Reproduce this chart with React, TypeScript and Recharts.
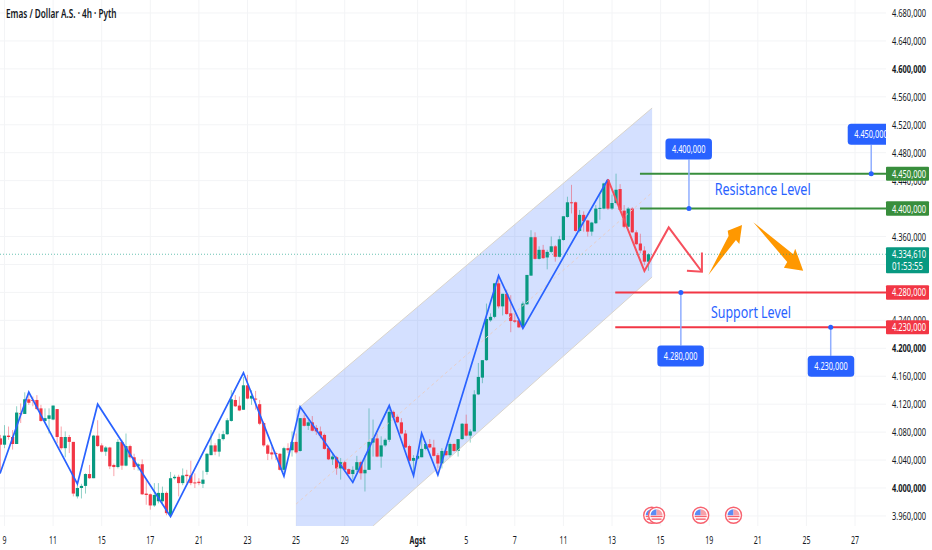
import React from 'react';
import {
  Area,
  Bar,
  CartesianGrid,
  ComposedChart,
  Line,
  ReferenceArea,
  ReferenceDot,
  XAxis,
  YAxis,
} from 'recharts';

// candles, 4h bars, first one sits at index -1
const opens = [4071,4062,4075,4073,4063,4107,4106,4127,4126,4126,4114,4096,4099,4098,4113,4073,4057,4073,4066,3988,4000,4003,4020,4014,4075,4061,4052,4058,4033,4030,4066,4032,4060,4044,4031,4034,3992,3991,3975,3981,3981,3993,3961,4014,4016,4007,4019,4018,4008,4009,4006,4023,4047,4061,4052,4070,4077,4096,4126,4118,4112,4147,4128,4128,4120,4093,4061,4051,4050,4049,4026,4057,4054,4066,4053,4100,4089,4094,4086,4081,4076,4057,4041,4044,4028,4037,4027,4020,4026,4037,4021,4026,4065,4071,4045,4061,4069,4109,4102,4094,4078,4060,4039,4042,4044,4056,4063,4058,4047,4035,4053,4047,4063,4053,4070,4092,4075,4081,4134,4158,4183,4240,4245,4293,4260,4278,4250,4240,4240,4231,4263,4304,4359,4328,4341,4330,4338,4346,4331,4355,4388,4409,4409,4368,4391,4383,4367,4379,4400,4400,4441,4400,4408,4428,4397,4374,4400,4366,4350,4340,4324];
const highs = [4076,4090,4088,4083,4117,4121,4137,4137,4131,4133,4119,4114,4114,4118,4113,4088,4081,4076,4066,4004,4006,4021,4033,4076,4097,4064,4060,4059,4035,4070,4069,4078,4062,4049,4036,4041,4012,3992,4007,4007,4002,3995,4023,4019,4019,4028,4026,4039,4021,4014,4025,4050,4083,4064,4078,4082,4100,4140,4133,4131,4159,4162,4140,4139,4126,4095,4063,4059,4052,4050,4059,4064,4081,4078,4100,4105,4097,4103,4090,4088,4078,4059,4050,4046,4043,4039,4028,4031,4046,4039,4047,4114,4098,4078,4074,4071,4117,4111,4105,4100,4083,4062,4047,4050,4078,4066,4070,4069,4050,4057,4057,4065,4064,4070,4093,4105,4084,4140,4179,4183,4264,4250,4293,4304,4278,4284,4276,4250,4243,4267,4305,4369,4366,4346,4348,4341,4360,4348,4361,4389,4417,4434,4410,4398,4396,4384,4381,4405,4420,4437,4442,4420,4450,4435,4405,4402,4402,4369,4364,4346,4336];
const lows = [4021,4057,4069,4055,4063,4093,4106,4119,4117,4112,4095,4095,4078,4097,4064,4055,4044,4050,3988,3985,3985,3992,4013,4014,4059,4051,4046,4027,4017,4028,4026,4031,4042,4026,4025,3990,3976,3969,3973,3978,3978,3961,3959,4012,3988,4004,4007,4004,4000,4004,4000,4019,4047,4047,4045,4068,4076,4095,4116,4110,4112,4127,4119,4112,4090,4059,4040,4041,4040,4025,4023,4050,4045,4049,4052,4088,4083,4081,4076,4071,4055,4040,4033,4019,4012,4023,4019,4012,4023,4012,3995,4026,4045,4044,4029,4059,4066,4100,4093,4077,4057,4038,4023,4040,4044,4054,4057,4045,4019,4028,4046,4044,4052,4045,4069,4074,4065,4081,4133,4150,4182,4238,4243,4257,4247,4248,4223,4236,4229,4229,4262,4304,4327,4327,4328,4313,4336,4324,4330,4354,4387,4393,4367,4366,4367,4360,4361,4378,4384,4399,4398,4398,4406,4396,4372,4373,4365,4348,4336,4319,4311];
const closes = [4062,4075,4073,4063,4108,4106,4127,4122,4125,4113,4096,4100,4104,4118,4073,4057,4073,4066,3992,4000,4003,4020,4014,4075,4060,4052,4058,4031,4030,4066,4032,4060,4044,4030,4034,3991,3990,3975,3990,3993,3993,3964,4014,4016,4007,4018,4017,4007,4007,4007,4012,4049,4061,4052,4070,4077,4097,4127,4117,4111,4147,4128,4132,4127,4092,4061,4049,4048,4049,4026,4057,4054,4066,4051,4100,4089,4094,4082,4081,4075,4056,4041,4045,4028,4037,4026,4020,4026,4037,4021,4026,4066,4071,4045,4061,4069,4109,4101,4094,4078,4058,4039,4043,4046,4056,4063,4058,4046,4035,4053,4047,4063,4053,4070,4092,4075,4081,4134,4159,4183,4242,4245,4293,4260,4278,4249,4239,4238,4230,4264,4305,4359,4328,4341,4329,4338,4346,4331,4356,4389,4409,4408,4368,4391,4382,4367,4380,4400,4401,4436,4400,4408,4427,4398,4374,4400,4366,4349,4340,4324,4334.61];

const FIRST_INDEX = -1;
const LAST_PRICE = 4334.61;

const priceTicks = [3960,4000,4040,4080,4120,4160,4200,4240,4280,4320,4360,4400,4440,4480,4520,4560,4600,4640,4680];
const boldPrices = [4000, 4200, 4600];
const tagPrices = [4450, 4400, LAST_PRICE, 4280, 4230];

const dateTickIndexes = [0,12,24,36,48,60,72,84,102,114,126,138,150,162,174,186,198,210];
const dateTickLabels = ['9','11','15','17','21','23','25','29','Agst','5','7','11','13','15','19','21','25','27'];

const blueIdx = [-1.1,6,18,23,41,59,69,73,86,95,101,103,107,122,128,149];
const bluePrices = [4020.7,4137.4,4005.7,4120,3959,4165,4017,4116.4,4008,4118,4017.6,4078.3,4018.6,4304,4228.6,4442];

const redIdx = [149,158,164,172.2];
const redPrices = [4442,4310.6,4373,4309.6];
const redHeadIdx = [168.5,172.2,172.2];
const redHeadPrices = [4311,4309.6,4337];

const channelIdx = [72,91,159.9];
const channelLow = [3945.6,3945.6,4302];
const channelHigh = [4111.6,4205,4544];

const calloutIdx = [169,214,167,204];
const calloutPrices = [4400,4450,4280,4230];
const flagIdx = [159.8,161,171.9,180];

const GREEN = '#089981';
const RED = '#f23645';
const LEVEL_GREEN = '#388e3c';
const BLUE = '#2962ff';
const PLOT_RIGHT = 886;

const fmt = (v: number) => {
  const s = v.toFixed(3).replace('.', ',');
  return s.slice(0, 1) + '.' + s.slice(1);
};

const rows = opens.map((o, i) => ({
  x: i + FIRST_INDEX,
  open: o,
  high: highs[i],
  low: lows[i],
  close: closes[i],
  range: [lows[i], highs[i]],
}));

const pairs = (xs: number[], ys: number[]) => xs.map((x, i) => ({ x, y: ys[i] }));
const blueLine = pairs(blueIdx, bluePrices);
const redLine = pairs(redIdx, redPrices);
const redHead = pairs(redHeadIdx, redHeadPrices);
const channel = channelIdx.map((x, i) => ({ x, band: [channelLow[i], channelHigh[i]] }));
const channelTop = pairs([channelIdx[0], channelIdx[2]], [channelHigh[0], channelHigh[2]]);
const channelBottom = pairs([channelIdx[1], channelIdx[2]], [channelLow[1], channelLow[2]]);
const channelMid = pairs([72, 159.9], [3977, 4423]);

const Candle = (props: any) => {
  const { x, y, width, height, payload } = props;
  const { open, close, high, low } = payload;
  const color = close >= open ? GREEN : RED;
  const k = height / (high - low);
  const top = y + (high - Math.max(open, close)) * k;
  const bodyH = Math.max(Math.abs(open - close) * k, 1);
  const cx = x + width / 2;
  return (
    <g>
      <line x1={cx} x2={cx} y1={y} y2={y + height} stroke={color} strokeOpacity={0.45} />
      <rect x={cx - 1.6} y={top} width={3.2} height={bodyH} fill={color} />
    </g>
  );
};

const YTick = (props: any) => {
  const { x, y, payload } = props;
  const v = payload.value;
  if (tagPrices.includes(v)) {
    const fill = v === LAST_PRICE ? GREEN : v > LAST_PRICE ? LEVEL_GREEN : RED;
    const last = v === LAST_PRICE;
    return (
      <g>
        <rect x={x} y={y - 7} width={43} height={last ? 26 : 14} rx={1} fill={fill} />
        <text x={x + 6} y={y + 4} fontSize={11} fill="#fff" textLength={34} lengthAdjust="spacingAndGlyphs">{fmt(v)}</text>
        {last && <text x={x + 6} y={y + 15.5} fontSize={11} fill="#fff" textLength={31} lengthAdjust="spacingAndGlyphs">01:53:55</text>}
      </g>
    );
  }
  return (
    <text x={x + 6} y={y + 4} fontSize={11} fill="#131722" fontWeight={boldPrices.includes(v) ? 700 : 400} textLength={34} lengthAdjust="spacingAndGlyphs">
      {fmt(v)}
    </text>
  );
};

const XTick = (props: any) => {
  const { x, y, payload } = props;
  const label = dateTickLabels[dateTickIndexes.indexOf(payload.value)];
  return (
    <text x={x} y={y + 10} fontSize={11} textAnchor="middle" fill="#131722" fontWeight={label === 'Agst' ? 700 : 400} textLength={label.length * 4} lengthAdjust="spacingAndGlyphs">
      {label}
    </text>
  );
};

const Callout = (props: any) => {
  const { cx, cy, text, boxTop, boxLeft } = props;
  const left = cx + boxLeft;
  const top = cy + boxTop;
  const id = 'clip-' + text;
  const lineEnd = boxTop < 0 ? top + 21 : top;
  return (
    <g>
      <clipPath id={id}>
        <rect x={0} y={0} width={PLOT_RIGHT} height={550} />
      </clipPath>
      <line x1={cx} x2={cx} y1={cy} y2={lineEnd} stroke="#90aeff" strokeWidth={1.5} />
      <circle cx={cx} cy={cy} r={2.5} fill={BLUE} />
      <g clipPath={`url(#${id})`}>
        <rect x={left} y={top} width={46.5} height={21} rx={3.5} fill={BLUE} />
        <text x={left + 6.5} y={top + 14.5} fontSize={11} fill="#fff" textLength={33.5} lengthAdjust="spacingAndGlyphs">{text}</text>
      </g>
    </g>
  );
};

const calloutBoxes = [
  { top: -70, left: -23.5 },
  { top: -50, left: -23.5 },
  { top: 53, left: -23.5 },
  { top: 28.5, left: -23 },
];

const Flag = (props: any) => {
  const { cx, cy } = props;
  return (
    <g>
      <circle cx={cx} cy={cy} r={8} fill="#fff" stroke="#f7626f" strokeWidth={1.4} />
      <path d={`M${cx - 6},${cy} A6,6 0 0 1 ${cx},${cy - 6} L${cx},${cy} Z`} fill="#5b8cf5" />
      <path d={`M${cx},${cy - 6} A6,6 0 0 1 ${cx + 6},${cy} L${cx},${cy} Z`} fill="#f7a0a8" />
      <rect x={cx - 6} y={cy + 0.5} width={12} height={1.4} fill="#f7626f" />
      <rect x={cx - 5} y={cy + 3.2} width={10} height={1.4} fill="#f7626f" />
    </g>
  );
};

const Swoosh = (pts: number[][]) => (props: any) => {
  const { x, y, width, height } = props;
  const d = pts.map(([fx, fy]) => `${x + fx * width},${y + fy * height}`).join(' ');
  return <polygon points={d} fill="#ff9800" />;
};

const arrowUp = [[0,1],[0.6,0.22],[0.574,0.113],[1,0],[0.92,0.38],[0.82,0.3]];
const arrowDown = [[0,0],[0.8,0.66],[0.84,0.545],[1,1],[0.613,0.938],[0.68,0.82]];

const LabelText = (props: any) => {
  const { cx, cy, text, w } = props;
  return (
    <text x={cx} y={cy} fontSize={16} fill="#2962ff" textAnchor="middle" textLength={w} lengthAdjust="spacingAndGlyphs">
      {text}
    </text>
  );
};

const plainLine = (key: string, data: any[], stroke: string, width: number, extra: any = {}) => (
  <Line
    key={key}
    data={data}
    dataKey="y"
    type="linear"
    stroke={stroke}
    strokeWidth={width}
    dot={false}
    activeDot={false}
    isAnimationActive={false}
    {...extra}
  />
);

const App = () => {
  return (
    <div style={{ position: 'absolute', left: 0, top: 0, width: 932, height: 550, fontFamily: '"Noto Sans", sans-serif', background: '#fff' }}>
      <div style={{ position: 'absolute', left: 6, top: 5, fontSize: 12, fontWeight: 600, color: '#131722', zIndex: 2, whiteSpace: 'nowrap', transform: 'scaleX(0.683)', transformOrigin: 'left center' }}>
        Emas / Dollar A.S. · 4h · Pyth
      </div>
      <ComposedChart width={932} height={550} data={rows} margin={{ top: 0, right: 0, bottom: 0, left: 0 }}>
        <CartesianGrid stroke="#f3f4f6" horizontalValues={priceTicks} verticalValues={dateTickIndexes} />
        <XAxis
          dataKey="x"
          type="number"
          domain={[-1.11, 217.65]}
          allowDataOverflow
          ticks={dateTickIndexes}
          interval={0}
          height={24}
          axisLine={false}
          tickLine={false}
          tick={<XTick />}
        />
        <YAxis
          orientation="right"
          type="number"
          domain={[3945.6, 4698.6]}
          allowDataOverflow
          ticks={[...priceTicks, ...tagPrices]}
          interval={0}
          width={46}
          axisLine={false}
          tickLine={false}
          tickSize={0}
          tickMargin={0}
          tick={<YTick />}
        />
        <Area data={channel} dataKey="band" type="linear" fill={BLUE} fillOpacity={0.2} stroke="none" dot={false} activeDot={false} isAnimationActive={false} />
        {plainLine('top', channelTop, '#d9d4cc', 1)}
        {plainLine('bottom', channelBottom, '#d9d4cc', 1)}
        {plainLine('mid', channelMid, '#e8cfc8', 1, { strokeDasharray: '3 3' })}
        {plainLine('last', pairs([-1.11, 217.65], [LAST_PRICE, LAST_PRICE]), GREEN, 1, { strokeDasharray: '1 2', strokeOpacity: 0.6 })}
        <Bar dataKey="range" barSize={3} shape={<Candle />} isAnimationActive={false} />
        {plainLine('blue', blueLine, BLUE, 1.7)}
        {plainLine('red', redLine, '#f6505d', 2)}
        {plainLine('redHead', redHead, '#f6505d', 2)}
        {plainLine('r1', pairs([156.9, 217.65], [4450, 4450]), LEVEL_GREEN, 2)}
        {plainLine('r2', pairs([156.9, 217.65], [4400, 4400]), LEVEL_GREEN, 2)}
        {plainLine('s1', pairs([150.8, 217.65], [4280, 4280]), RED, 2)}
        {plainLine('s2', pairs([150.8, 217.65], [4230, 4230]), RED, 2)}
        <ReferenceArea x1={173.8} x2={182.1} y1={4305} y2={4376.5} ifOverflow="visible" shape={Swoosh(arrowUp)} />
        <ReferenceArea x1={184.9} x2={197.2} y1={4311} y2={4380.4} ifOverflow="visible" shape={Swoosh(arrowDown)} />
        {calloutIdx.map((x, i) => (
          <ReferenceDot
            key={x}
            x={x}
            y={calloutPrices[i]}
            ifOverflow="visible"
            shape={(p: any) => <Callout {...p} text={fmt(calloutPrices[i])} boxTop={calloutBoxes[i].top} boxLeft={calloutBoxes[i].left} />}
          />
        ))}
        {flagIdx.map((x) => (
          <ReferenceDot key={x} x={x} y={3961} ifOverflow="visible" shape={(p: any) => <Flag {...p} />} />
        ))}
        <ReferenceDot x={187.2} y={4420} ifOverflow="visible" shape={(p: any) => <LabelText {...p} text="Resistance Level" w={96} />} />
        <ReferenceDot x={184.3} y={4244} ifOverflow="visible" shape={(p: any) => <LabelText {...p} text="Support Level" w={80} />} />
      </ComposedChart>
    </div>
  );
};

export default App;
